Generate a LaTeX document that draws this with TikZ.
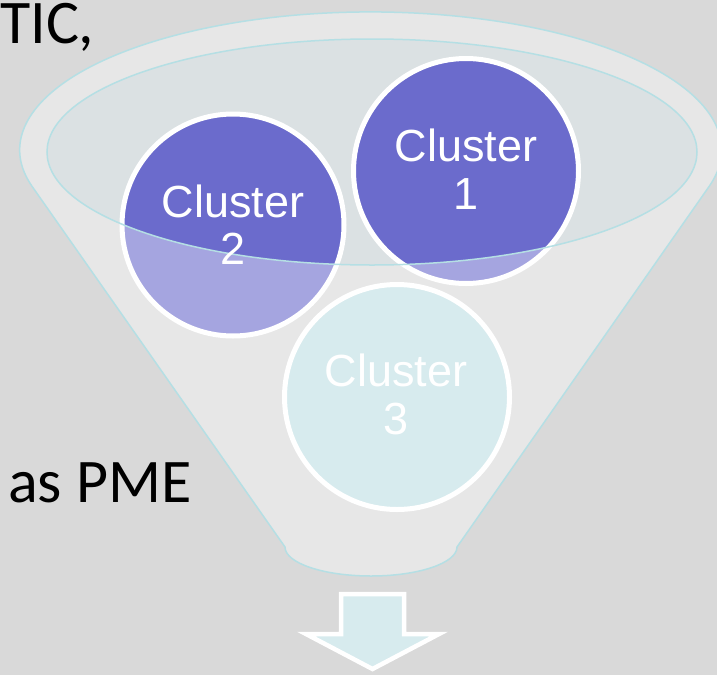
\documentclass[tikz,border=0pt]{standalone}
\usepackage{fontspec}
\setmainfont{Liberation Sans}
\newfontfamily\calib{Carlito}
\definecolor{bgc}{HTML}{D9D9D9}
\definecolor{funnelc}{HTML}{E7E7E7}
\definecolor{edgec}{HTML}{B5DFE4}
\definecolor{ellc}{HTML}{DBE1E3}
\definecolor{darkp}{HTML}{6B6BCC}
\definecolor{lightp}{HTML}{A5A5E0}
\definecolor{cyanc}{HTML}{D7EBEE}
\tikzset{
  ringline/.style={draw=white, line width=5pt},
  ctext/.style={text=white, align=center, font=\fontsize{45}{47.5}\selectfont, inner sep=0pt},
  btext/.style={text=black, font=\calib\fontsize{62}{66}\selectfont, inner sep=0pt, anchor=base west}
}
\begin{document}
\begin{tikzpicture}[x=1pt,y=-1pt]
\fill[bgc] (0,0) rectangle (717,675);
\useasboundingbox (0,0) rectangle (717,675);
% funnel body
\coordinate (fr) at (709,186.6);
\coordinate (fl) at (285,547);
\draw[fill=funnelc, draw=edgec, line width=1.5pt, line join=round]
  (fr) arc[start angle=15.4, end angle=-195.4, x radius=351, y radius=138]
  -- (fl) arc[start angle=180, end angle=0, x radius=86, y radius=29]
  -- cycle;
% inner ellipse fill
\fill[ellc] (372,152) ellipse[x radius=325, y radius=113];
% circles
\fill[lightp] (233,225) circle (111);
\fill[lightp] (466,171) circle (112.5);
\fill[cyanc] (397,397) circle (112.5);
\begin{scope}
  \clip (372,152) ellipse[x radius=325, y radius=113];
  \fill[darkp] (233,225) circle (111);
  \fill[darkp] (466,171) circle (112.5);
\end{scope}
\draw[ringline] (233,225) circle (111);
\draw[ringline] (466,171) circle (112.5);
\draw[ringline] (397,397) circle (112.5);
% inner ellipse outline
\draw[edgec, line width=1.5pt] (372,152) ellipse[x radius=325, y radius=113];
% labels
\node[ctext] (c1) at (466,169) {Cluster\\1};
\node[ctext] (c2) at (233,224.5) {Cluster\\2};
\node[ctext] (c3) at (396,394.5) {Cluster\\3};
% arrow
\draw[fill=cyanc, draw=white, line width=4.5pt, line join=miter]
  (341,594) -- (404,594) -- (404,634) -- (439,634) -- (372.5,669) -- (306,634) -- (341,634) -- cycle;
% side texts
\node[btext] (t1) at (0,43) {TIC,};
\node[btext] (t2) at (8,502) {as PME};
\end{tikzpicture}
\end{document}
